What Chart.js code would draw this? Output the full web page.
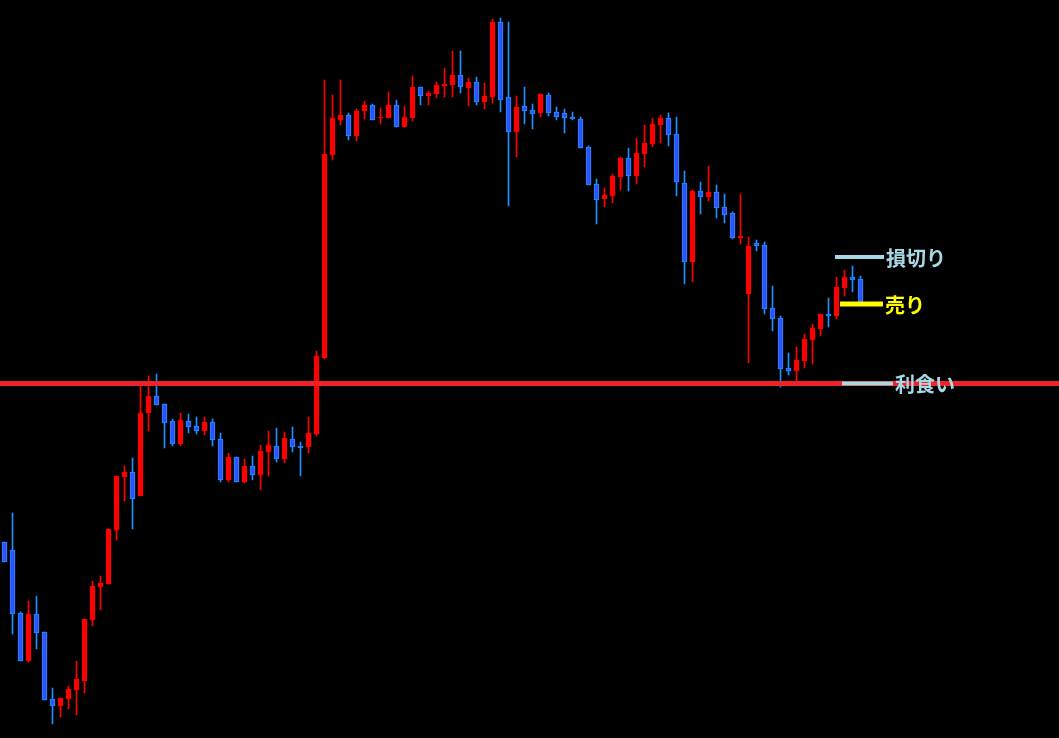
<!DOCTYPE html>
<html>
<head>
<meta charset="utf-8">
<script src="https://cdn.jsdelivr.net/npm/chart.js@4/dist/chart.umd.min.js"></script>
<style>
  html, body { margin: 0; padding: 0; background: #000; overflow: hidden; }
  canvas { display: block; background: #000; }
</style>
</head>
<body>
<canvas id="c" width="1059" height="738"></canvas>
<script>
// ---- Data (price in arbitrary units, one candle per bar) ----
const openPrices = [458,450,387,339,386,368,301,294,301,310,319,380,413,416,470,523,528,504,587,604,
  596,579,556,579,574,569,578,561,520,543,518,534,525,548,554,541,561,554,553,566,
  642,845,880,885,864,889,895,882,882,895,873,882,913,904,906,914,915,925,912,918,
  898,903,978,903,868,894,890,887,905,888,887,883,881,853,816,801,804,823,842,824,
  846,856,875,882,866,817,738,809,803,808,793,787,762,706,757,755,692,682,632,629,
  639,660,671,686,684,712,723,721];
const highPrices = [458,487,388,399,404,368,312,302,314,339,381,419,424,471,524,534,542,617,624,626,
  596,581,587,586,583,583,581,567,547,543,541,544,555,569,572,568,573,558,583,649,
  920,905,920,887,891,899,896,892,908,900,894,924,913,909,918,932,949,949,922,923,
  917,981,982,978,904,913,896,906,907,893,891,888,883,854,821,812,826,843,852,862,
  875,882,885,887,883,829,810,818,834,815,806,788,806,763,760,758,714,684,647,653,
  666,676,686,702,723,730,734,724];
const lowPrices = [438,366,339,338,351,300,276,283,291,285,307,374,390,416,460,499,471,504,569,595,
  552,554,554,567,566,565,554,518,518,518,517,520,510,524,538,537,548,524,547,564,
  641,840,875,860,859,881,880,876,882,873,873,879,895,895,902,903,903,907,894,895,
  891,897,888,794,843,876,871,883,884,880,867,880,852,815,776,793,797,810,809,816,
  833,853,857,854,804,716,718,786,799,782,777,761,756,637,749,686,669,613,625,616,
  632,636,664,673,681,704,708,697];
const closePrices = [438,386,339,386,367,300,294,302,311,321,381,414,417,471,524,528,501,587,604,595,
  577,556,580,573,569,578,560,520,543,518,534,525,549,555,541,562,553,552,567,644,
  846,882,885,864,889,895,880,883,895,873,883,913,904,907,915,916,925,913,918,898,
  904,978,900,868,893,889,886,906,887,883,882,881,852,815,800,805,824,842,824,847,
  857,876,882,865,818,738,809,803,808,792,785,762,764,754,754,691,681,631,629,640,
  661,672,686,684,713,723,720,697];

// Trade levels
const levelNames  = ['損切り', '売り', '利食い'];
const levelValues = [743, 696, 616.5];

// ---- Layout / style constants ----
const X_MIN = -0.5625, X_MAX = 131.8125;     // candle index range shown
const Y_MIN = 262, Y_MAX = 1000;             // price range shown
const levelStart = [103.81, 104.44, 104.69]; // short marker segments (index units)
const levelEnd   = [109.94, 109.81, 111.06];
const levelColors = ['#a6d8e6', '#ffff00', '#a6d8e6'];
const levelWidths = [4, 5, 4];
const UP = '#ff0000', DOWN_FILL = '#3052ff', DOWN_EDGE = '#1e90ff';

const isUp = i => closePrices[i] >= openPrices[i];
const idx = openPrices.map((_, i) => i);

const wickData = idx.map(i => ({ x: i, y: [lowPrices[i], highPrices[i]] }));
const bodyData = idx.map(i => ({ x: i, y: [openPrices[i], closePrices[i]] }));

const datasets = [];
levelNames.forEach((n, k) => {
  datasets.push({
    type: 'line', label: n, order: 0,
    data: [{ x: levelStart[k], y: levelValues[k] }, { x: levelEnd[k], y: levelValues[k] }],
    borderColor: levelColors[k], borderWidth: levelWidths[k],
    pointRadius: 0, fill: false, borderCapStyle: 'butt'
  });
});
datasets.push({
  type: 'line', label: 'target', order: 1,
  data: [{ x: X_MIN, y: levelValues[2] }, { x: X_MAX, y: levelValues[2] }],
  borderColor: '#ee2228', borderWidth: 5, pointRadius: 0, fill: false
});
datasets.push({
  type: 'bar', label: 'body', order: 2, grouped: false,
  data: bodyData, barThickness: 5, borderSkipped: false, borderWidth: 1,
  backgroundColor: ctx => isUp(ctx.dataIndex) ? UP : DOWN_FILL,
  borderColor: ctx => isUp(ctx.dataIndex) ? UP : DOWN_EDGE
});
datasets.push({
  type: 'bar', label: 'wick', order: 3, grouped: false,
  data: wickData, barThickness: 1, borderWidth: 0,
  backgroundColor: ctx => isUp(ctx.dataIndex) ? UP : DOWN_EDGE
});

const labelPlugin = {
  id: 'levelLabels',
  afterDatasetsDraw(chart) {
    const { ctx, scales: { x, y } } = chart;
    ctx.save();
    ctx.font = 'bold 20px "Noto Sans CJK JP", "Noto Sans", sans-serif';
    ctx.textBaseline = 'middle';
    ctx.textAlign = 'left';
    levelNames.forEach((n, k) => {
      const px = x.getPixelForValue(levelEnd[k]) + 2;
      const py = y.getPixelForValue(levelValues[k]) + 1;
      ctx.fillStyle = levelColors[k];
      ctx.fillText(n, px, py);
    });
    ctx.restore();
  }
};

new Chart(document.getElementById('c'), {
  type: 'bar',
  data: { datasets },
  options: {
    responsive: false,
    animation: false,
    events: [],
    layout: { padding: 0 },
    plugins: { legend: { display: false }, tooltip: { enabled: false } },
    scales: {
      x: { type: 'linear', min: X_MIN, max: X_MAX, display: false, offset: false },
      y: { type: 'linear', min: Y_MIN, max: Y_MAX, display: false }
    }
  },
  plugins: [labelPlugin]
});
</script>
</body>
</html>
